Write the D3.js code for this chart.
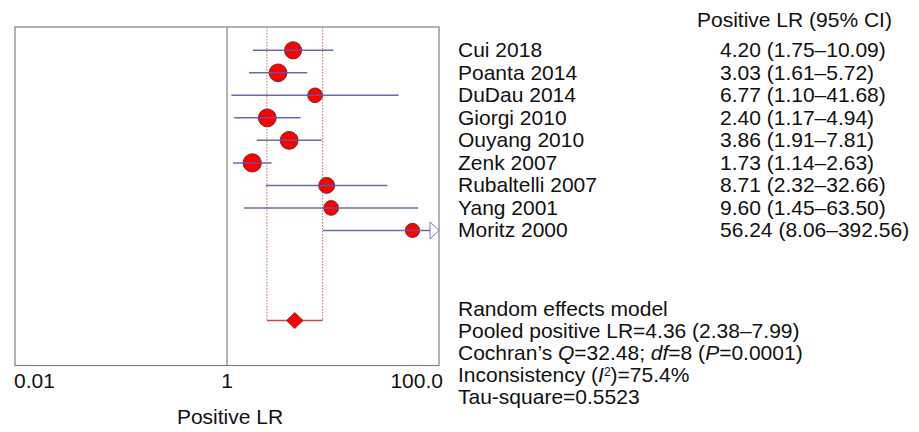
<!DOCTYPE html>
<html>
<head>
<meta charset="utf-8">
<script src="https://cdn.jsdelivr.net/npm/d3@7"></script>
<style>
  html, body { margin: 0; padding: 0; background: #fff; }
  svg { display: block; font-family: Arial, "Liberation Sans", sans-serif; }
</style>
</head>
<body>
<script>
'use strict';

// study data
const studies = ['Cui 2018', 'Poanta 2014', 'DuDau 2014', 'Giorgi 2010', 'Ouyang 2010',
                 'Zenk 2007', 'Rubaltelli 2007', 'Yang 2001', 'Moritz 2000'];
const lr      = [4.20, 3.03, 6.77, 2.40, 3.86, 1.73, 8.71, 9.60, 56.24];
const lower   = [1.75, 1.61, 1.10, 1.17, 1.91, 1.14, 2.32, 1.45, 8.06];
const upper   = [10.09, 5.72, 41.68, 4.94, 7.81, 2.63, 32.66, 63.50, 392.56];
const weights = [12.0, 12.8, 8.8, 13.0, 13.0, 13.6, 10.3, 8.8, 8.2];

// pooled estimate
const pooled = { lr: 4.36, lower: 2.38, upper: 7.99 };
const summaryLines = ['Random effects model', 'Pooled positive LR=4.36 (2.38\u20137.99)'];

// axis
const tickValues = [0.01, 1, 100];
const tickLabels = ['0.01', '1', '100.0'];

const W = 919, H = 432;
const box = { left: 15, right: 439, top: 27, bottom: 365.5 };
const pooledRow = 12;

const x = d3.scaleLog().domain([0.01, 100]).range([box.left, box.right]);
const y = d3.scaleLinear().domain([0, pooledRow]).range([50.3, 320.5]);
const r = d3.scaleSqrt().domain([0, 14]).range([0, 9.3]);

const fmt = d3.format('.2f');
const ciColor = '#5a5aa8';
const fontSize = 21;

const svg = d3.select('body').append('svg')
  .attr('width', W)
  .attr('height', H);

// frame
svg.append('rect')
   .attr('x', box.left)
   .attr('y', box.top)
   .attr('width', box.right - box.left)
   .attr('height', box.bottom - box.top)
   .attr('fill', 'none')
   .attr('stroke', '#808080')
   .attr('stroke-width', 1.2);

// line of no effect
svg.append('line')
   .attr('x1', x(1)).attr('x2', x(1))
   .attr('y1', box.top).attr('y2', box.bottom)
   .attr('stroke', '#808080')
   .attr('stroke-width', 1.2);

// pooled CI dotted verticals
[pooled.lower, pooled.upper].forEach((v) => {
  svg.append('line')
     .attr('x1', x(v)).attr('x2', x(v))
     .attr('y1', box.top).attr('y2', y(pooledRow))
     .attr('stroke', '#c46a6a')
     .attr('stroke-width', 1)
     .attr('stroke-dasharray', '1.5,1.5');
});

// pooled CI horizontal
svg.append('line')
   .attr('x1', x(pooled.lower)).attr('x2', x(pooled.upper))
   .attr('y1', y(pooledRow)).attr('y2', y(pooledRow))
   .attr('stroke', '#c05050')
   .attr('stroke-width', 1.3);

// pooled diamond
const px = x(pooled.lr), py = y(pooledRow);
svg.append('path')
   .attr('d', `M${px - 8.3},${py} L${px},${py - 8} L${px + 8.3},${py} L${px},${py + 8} Z`)
   .attr('fill', '#ff0000')
   .attr('stroke', '#7a2020')
   .attr('stroke-width', 0.8);

// study markers
studies.forEach((name, i) => {
  const cy = y(i);
  svg.append('circle')
     .attr('cx', x(lr[i]))
     .attr('cy', cy)
     .attr('r', r(weights[i]))
     .attr('fill', '#ff0000')
     .attr('stroke', '#5a2a2a')
     .attr('stroke-width', 0.9);

  const hi = Math.min(upper[i], x.domain()[1]);
  const clipped = upper[i] > x.domain()[1];
  svg.append('line')
     .attr('x1', x(lower[i]))
     .attr('x2', clipped ? x(hi) - 9 : x(hi))
     .attr('y1', cy).attr('y2', cy)
     .attr('stroke', ciColor)
     .attr('stroke-opacity', 0.9)
     .attr('stroke-width', 1.5);

  if (clipped) {
    const ax = x(hi);
    svg.append('path')
       .attr('d', `M${ax - 9},${cy - 8.5} L${ax},${cy} L${ax - 9},${cy + 8.5} Z`)
       .attr('fill', '#fff')
       .attr('stroke', ciColor)
       .attr('stroke-opacity', 0.8)
       .attr('stroke-width', 1);
  }
});

// axis tick labels
tickValues.forEach((v, i) => {
  const anchor = i === 0 ? 'start' : (i === tickValues.length - 1 ? 'end' : 'middle');
  const dx = i === 0 ? -1 : (i === tickValues.length - 1 ? 4 : 0);
  svg.append('text')
     .attr('x', x(v) + dx)
     .attr('y', 387.5)
     .attr('text-anchor', anchor)
     .attr('font-size', fontSize)
     .attr('fill', '#111')
     .text(tickLabels[i]);
});

svg.append('text')
   .attr('x', x(1) + 3)
   .attr('y', 423.5)
   .attr('text-anchor', 'middle')
   .attr('font-size', fontSize)
   .attr('fill', '#111')
   .text('Positive LR');

// right-hand table
svg.append('text')
   .attr('x', 697)
   .attr('y', 26.5)
   .attr('font-size', fontSize)
   .attr('fill', '#111')
   .text('Positive LR (95% CI)');

studies.forEach((name, i) => {
  svg.append('text')
     .attr('x', 458)
     .attr('y', y(i) + 7)
     .attr('font-size', fontSize)
     .attr('fill', '#111')
     .text(name);
  svg.append('text')
     .attr('x', 720)
     .attr('y', y(i) + 7)
     .attr('font-size', fontSize)
     .attr('fill', '#111')
     .text(`${fmt(lr[i])} (${fmt(lower[i])}\u2013${fmt(upper[i])})`);
});

// summary block
const sumTop = 316, sumStep = 22;
const sumText = (i) => svg.append('text')
  .attr('x', 458)
  .attr('y', sumTop + sumStep * i)
  .attr('font-size', fontSize)
  .attr('fill', '#111');

summaryLines.forEach((line, i) => sumText(i).text(line));

const q = sumText(2);
q.append('tspan').text('Cochran\u2019s ');
q.append('tspan').attr('font-style', 'italic').text('Q');
q.append('tspan').text('=32.48; ');
q.append('tspan').attr('font-style', 'italic').text('df');
q.append('tspan').text('=8 (');
q.append('tspan').attr('font-style', 'italic').text('P');
q.append('tspan').text('=0.0001)');

const inc = sumText(3);
inc.append('tspan').text('Inconsistency (');
inc.append('tspan').attr('font-style', 'italic').text('I');
inc.append('tspan').attr('font-size', 12).attr('dy', -6).text('2');
inc.append('tspan').attr('dy', 6).text(')=75.4%');

sumText(4).text('Tau-square=0.5523');
</script>
</body>
</html>
